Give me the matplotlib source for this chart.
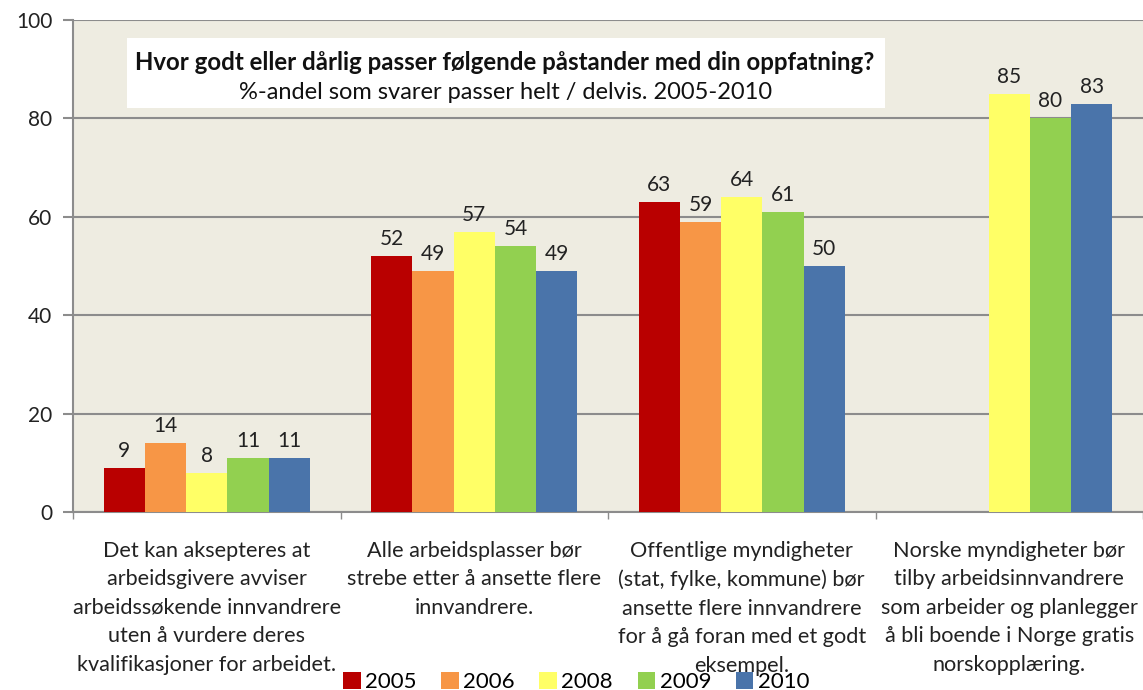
import numpy as np
import matplotlib.pyplot as plt
from matplotlib.patches import Rectangle
import matplotlib.transforms as mtransforms

plt.rcParams["font.family"] = ["Lato", "DejaVu Sans"]

# -- Data ----------------------------------------------------------------------
categories = [
    "Det kan aksepteres at\narbeidsgivere avviser\narbeidssøkende innvandrere\nuten å vurdere deres\nkvalifikasjoner for arbeidet.",
    "Alle arbeidsplasser bør\nstrebe etter å ansette flere\ninnvandrere.",
    "Offentlige myndigheter\n(stat, fylke, kommune) bør\nansette flere innvandrere\nfor å gå foran med et godt\neksempel.",
    "Norske myndigheter bør\ntilby arbeidsinnvandrere\nsom arbeider og planlegger\nå bli boende i Norge gratis\nnorskopplæring.",
]
years = ["2005", "2006", "2008", "2009", "2010"]
v2005 = [9, 52, 63, np.nan]
v2006 = [14, 49, 59, np.nan]
v2008 = [8, 57, 64, 85]
v2009 = [11, 54, 61, 80]
v2010 = [11, 49, 50, 83]
series = [v2005, v2006, v2008, v2009, v2010]

COLORS = ["#B90000", "#F79646", "#FFFF66", "#92D050", "#4A74AA"]
BG = "#EEECE1"
GRID = "#8C8C8C"

fig = plt.figure(figsize=(11.43, 6.90), dpi=100)
ax = fig.add_axes([73 / 1143, 1 - 512 / 690, 1 - 73 / 1143, (512 - 20) / 690])
ax.set_facecolor(BG)

x = np.arange(len(categories))
width = 0.77 / len(series)

for i, (vals, col, yr) in enumerate(zip(series, COLORS, years)):
    pos = x + (i - 2) * width
    ax.bar(pos, vals, width=width, color=col, label=yr, zorder=3, linewidth=0)
    for px, v in zip(pos, vals):
        if np.isnan(v):
            continue
        ax.annotate(f"{v:g}", (px, v), xytext=(0, 5), textcoords="offset points",
                    ha="center", va="bottom", fontsize=15, color="#222222", zorder=4)

ax.set_xlim(-0.5, len(categories) - 0.5)
ax.set_ylim(0, 100)
ax.set_yticks(range(0, 101, 20))
ax.yaxis.grid(True, color=GRID, linewidth=1.5, zorder=1)
ax.tick_params(axis="y", labelsize=15, colors=GRID, labelcolor="#222222",
               length=7, width=1.5, pad=8)

# category boundaries as ticks; labels in the middle
ax.set_xticks(np.arange(-0.5, len(categories), 1.0))
ax.set_xticklabels([])
ax.tick_params(axis="x", length=5, width=1, colors=GRID)
for xi, lab in zip(x, categories):
    ax.text(xi, -5.8, lab, ha="center", va="top", fontsize=15.6,
            color="#222222", linespacing=1.54)

for side in ["top", "right"]:
    ax.spines[side].set_visible(False)
ax.spines["left"].set_color(GRID)
ax.spines["left"].set_linewidth(1.5)
ax.spines["bottom"].set_color(GRID)
ax.spines["bottom"].set_linewidth(1.5)

# -- Title box inside the plot -------------------------------------------------
blend = mtransforms.blended_transform_factory(ax.transAxes, ax.transData)
ax.add_patch(Rectangle((0.050, 82.1), 0.709, 14.2, transform=blend,
                       facecolor="white", edgecolor="none", zorder=2))
ax.text(0.403, 91.3, "Hvor godt eller dårlig passer følgende påstander med din oppfatning?",
        transform=blend, ha="center", va="center", fontsize=17.3, fontweight="bold",
        color="#111111", zorder=5)
ax.text(0.404, 85.3, "%-andel som svarer passer helt / delvis. 2005-2010",
        transform=blend, ha="center", va="center", fontsize=17, color="#111111", zorder=5)

fig.legend(loc="lower center", bbox_to_anchor=(0.504, -0.032), ncol=5, frameon=False,
           fontsize=16, handlelength=0.8, handleheight=0.8, handletextpad=0.2,
           columnspacing=1.1)

fig.savefig("out.png", dpi=100)
